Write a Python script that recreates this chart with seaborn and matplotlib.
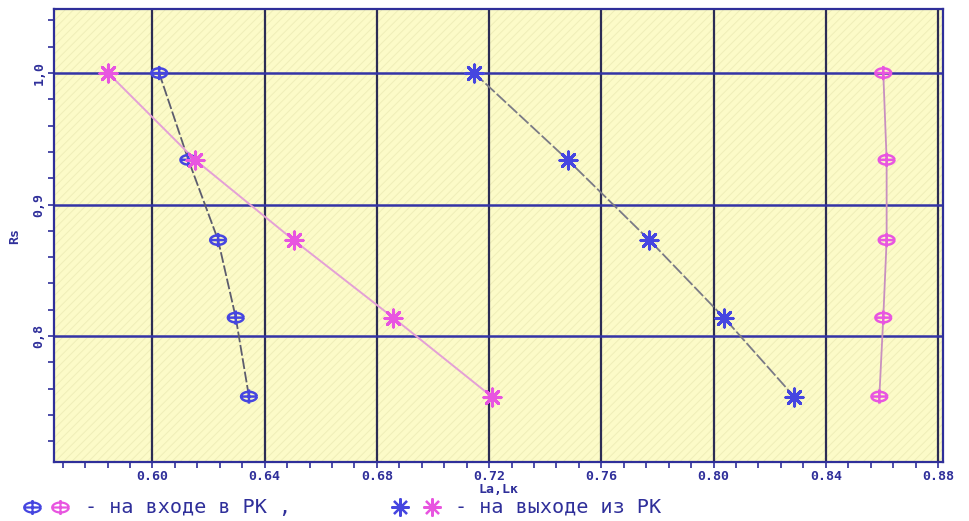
import numpy as np
import pandas as pd
import matplotlib
matplotlib.use("Agg")
import matplotlib.pyplot as plt
from matplotlib.path import Path
from matplotlib.patches import Rectangle
from matplotlib.lines import Line2D
from matplotlib.ticker import MultipleLocator, FixedLocator
import seaborn as sns

# Rs levels shared by all four series
rs = [1.0, 0.934, 0.873, 0.814, 0.754]

# La,Lk values for each series
in_blue = [0.6024, 0.6128, 0.6234, 0.6297, 0.6344]
out_magenta = [0.5842, 0.6152, 0.6503, 0.6858, 0.7209]
out_blue = [0.7147, 0.7480, 0.7771, 0.8037, 0.8287]
in_magenta = [0.8605, 0.8617, 0.8617, 0.8605, 0.8591]

x_ticks = [0.60, 0.64, 0.68, 0.72, 0.76, 0.80, 0.84, 0.88]
x_labels = ["0.60", "0.64", "0.68", "0.72", "0.76", "0.80", "0.84", "0.88"]
y_ticks = [0.8, 0.9, 1.0]
y_labels = ["0,8", "0,9", "1,0"]

BLUE = "#4646e0"
MAGENTA = "#e855e0"
NAVY = "#2f2f9a"
GRID_V = "#2c2c55"
GRID_H = "#3434a6"

sns.set_style("white")
plt.rcParams["font.family"] = ["DejaVu Sans Mono", "DejaVu Sans"]
plt.rcParams["hatch.linewidth"] = 0.7

# "Ф"-shaped marker: flattened ellipse with a cross through it
theta = np.linspace(0, 2 * np.pi, 25)
ell = np.column_stack([0.5 * np.cos(theta), 0.3 * np.sin(theta)])
verts = [tuple(p) for p in ell] + [(0, -0.45), (0, 0.45), (-0.5, 0), (0.5, 0)]
codes = [Path.MOVETO] + [Path.LINETO] * 24 + [Path.MOVETO, Path.LINETO, Path.MOVETO, Path.LINETO]
phi_marker = Path(verts, codes)
star_marker = (8, 2, 0)

fig = plt.figure(figsize=(9.69, 5.21), dpi=100)
fig.patch.set_facecolor("white")
ax = fig.add_axes([0.0557, 0.1132, 0.9175, 0.8695])

ax.set_xlim(0.5649, 0.8818)
ax.set_ylim(0.7042, 1.0487)

# pale yellow hatched field
ax.set_facecolor("#fcfbc8")
ax.add_patch(Rectangle((0, 0), 1, 1, transform=ax.transAxes, facecolor="none",
                       edgecolor="#efeeb8", hatch="////", linewidth=0, zorder=0))

# grid
for xv in x_ticks:
    ax.axvline(xv, color=GRID_V, lw=1.6, zorder=1)
for yv in y_ticks:
    ax.axhline(yv, color=GRID_H, lw=1.8, zorder=1)

series = [
    (in_blue, BLUE, "phi", "#5c5c6e", (6, 1.5), 1.3),
    (out_magenta, MAGENTA, "star", "#e4a0d6", None, 1.4),
    (out_blue, BLUE, "star", "#7a7a86", (7, 1.5), 1.3),
    (in_magenta, MAGENTA, "phi", "#c890c0", None, 1.3),
]

for xs, mcol, kind, lcol, dash, lw in series:
    df = pd.DataFrame({"La": xs, "Rs": rs})
    line_kws = dict(color=lcol, lw=lw, zorder=3)
    if dash is not None:
        line_kws["dashes"] = dash
    sns.lineplot(data=df, x="La", y="Rs", estimator=None, sort=False, ax=ax, **line_kws)
    if kind == "phi":
        sns.scatterplot(data=df, x="La", y="Rs", marker=phi_marker, s=130,
                        facecolors="none", edgecolor=mcol, linewidth=1.8,
                        ax=ax, zorder=4)
    else:
        sns.scatterplot(data=df, x="La", y="Rs", marker=star_marker, s=150,
                        color=mcol, linewidth=2.2, ax=ax, zorder=4)

# axes frame and ticks
for side in ["left", "right", "top", "bottom"]:
    ax.spines[side].set_color(NAVY)
    ax.spines[side].set_linewidth(1.6)
    ax.spines[side].set_visible(True)

ax.xaxis.set_major_locator(FixedLocator(x_ticks))
ax.xaxis.set_minor_locator(MultipleLocator(0.008))
ax.yaxis.set_major_locator(FixedLocator(y_ticks))
ax.yaxis.set_minor_locator(MultipleLocator(0.02))
ax.set_xticklabels(x_labels)
ax.set_yticklabels(y_labels, rotation=90, va="center")
ax.tick_params(axis="both", which="both", direction="out", color=NAVY, width=1.2,
               labelcolor=NAVY, labelsize=9.5)
ax.tick_params(axis="both", which="major", length=4, pad=2)
ax.tick_params(axis="both", which="minor", length=4)
ax.tick_params(axis="x", which="both", bottom=True, top=False)
ax.tick_params(axis="y", which="both", left=True, right=False)
for t in ax.get_xticklabels() + ax.get_yticklabels():
    t.set_fontweight("bold")

ax.set_xlabel("La,Lк", color=NAVY, fontsize=9.5, fontweight="bold", labelpad=0)
ax.set_ylabel("Rs", color=NAVY, fontsize=9.5, fontweight="bold", labelpad=8)

# key below the plot
ly = 1 - 507 / 521
for px, col, kind in [(32, BLUE, "phi"), (60, MAGENTA, "phi"),
                      (400, BLUE, "star"), (432, MAGENTA, "star")]:
    mk = phi_marker if kind == "phi" else star_marker
    fig.add_artist(Line2D([px / 969], [ly], transform=fig.transFigure, marker=mk,
                          markersize=12 if kind == "phi" else 13,
                          markerfacecolor="none", markeredgecolor=col,
                          markeredgewidth=1.6, linestyle="none"))
fig.text(85 / 969, ly, "- на входе в РК ,", color=NAVY, fontsize=14.5,
         va="center", ha="left")
fig.text(455 / 969, ly, "- на выходе из РК", color=NAVY, fontsize=14.5,
         va="center", ha="left")

fig.savefig("out.png", dpi=100, facecolor="white")
